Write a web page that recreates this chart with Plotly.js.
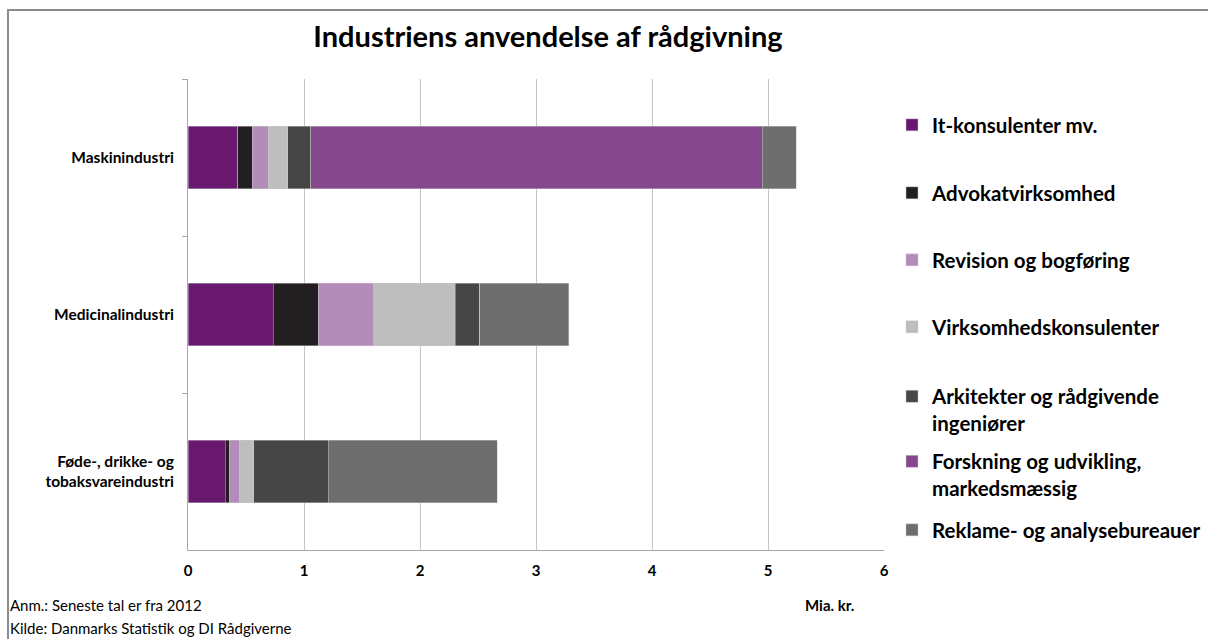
<!DOCTYPE html>
<html>
<head>
<meta charset="utf-8">
<script src="https://cdn.plot.ly/plotly-3.0.1.min.js"></script>
<style>
  html, body { margin: 0; padding: 0; background: #ffffff; }
  #chart { width: 1208px; height: 639px; }
</style>
</head>
<body>
<div id="chart"></div>
<script>
// Categories (top to bottom)
const categories = ["Maskinindustri", "Medicinalindustri", "Føde-, drikke- og<br>tobaksvareindustri"];

// Series values (Mia. kr.), same order as categories
const itKonsulenter   = [0.43, 0.733, 0.32];
const advokat         = [0.125, 0.39, 0.035];
const revision        = [0.135, 0.48, 0.085];
const virksomhed      = [0.17, 0.70, 0.125];
const arkitekter      = [0.20, 0.21, 0.645];
const forskning       = [3.89, 0, 0];
const reklame         = [0.295, 0.77, 1.455];

const seriesNames = [
  "It-konsulenter mv.",
  "Advokatvirksomhed",
  "Revision og bogføring",
  "Virksomhedskonsulenter",
  "Arkitekter og rådgivende<br>ingeniører",
  "Forskning og udvikling,<br>markedsmæssig",
  "Reklame- og analysebureauer"
];
const seriesValues = [itKonsulenter, advokat, revision, virksomhed, arkitekter, forskning, reklame];
const seriesColors = ["#68186f", "#231f20", "#b48cb9", "#bebebe", "#464646", "#85488c", "#6e6e6e"];

const xTicks = [0, 1, 2, 3, 4, 5, 6];

const FONT = "Lato, 'Open Sans', sans-serif";

// plot area geometry (pixels)
const L = 188, R = 884, T = 79, B = 550, W = 1208, H = 639;
const pw = R - L, ph = B - T;
const px2x = p => (p - L) / pw;
const py2y = p => (B - p) / ph;

const legendCenters = [125, 193, 260, 327, 410, 475, 530];
const legendX = 892;

const traces = seriesNames.map((name, i) => ({
  type: "bar",
  orientation: "h",
  name: name,
  y: categories,
  x: seriesValues[i],
  marker: { color: seriesColors[i], line: { color: "rgba(200,200,200,0.6)", width: 0.8 } },
  legend: "legend" + (i + 2),
  showlegend: true,
  hoverinfo: "x+name"
}));

const layout = {
  width: W, height: H,
  paper_bgcolor: "#ffffff",
  plot_bgcolor: "#ffffff",
  margin: { l: L, r: W - R, t: T, b: H - B, pad: 0, autoexpand: false },
  barmode: "stack",
  bargap: 0.6,
  showlegend: true,
  font: { family: FONT, color: "#000000" },
  title: {
    text: "Industriens anvendelse af rådgivning",
    font: { family: FONT, size: 29, weight: "bold", color: "#000000" },
    x: (548) / W, xanchor: "center",
    y: 1 - 37 / H, yanchor: "middle"
  },
  xaxis: {
    range: [0, 6],
    tickvals: xTicks,
    ticktext: xTicks.map(String),
    showgrid: true,
    gridcolor: "#c4c4c4",
    gridwidth: 1,
    zeroline: false,
    showline: true,
    linecolor: "#a6a6a6",
    linewidth: 1,
    ticks: "",
    ticklabelstandoff: 7,
    tickfont: { family: FONT, size: 15, weight: "bold", color: "#000000" },
    fixedrange: true
  },
  yaxis: {
    autorange: "reversed",
    type: "category",
    showline: true,
    linecolor: "#a6a6a6",
    linewidth: 1,
    ticks: "outside",
    tickson: "boundaries",
    ticklen: 5,
    tickcolor: "#a6a6a6",
    showgrid: false,
    ticklabelstandoff: 10,
    tickfont: { family: FONT, size: 15.5, weight: "bold", color: "#000000" },
    fixedrange: true
  },
  annotations: [
    { text: "Mia. kr.", xref: "paper", yref: "paper", x: px2x(829), y: py2y(605),
      xanchor: "center", yanchor: "middle", showarrow: false,
      font: { family: FONT, size: 15, weight: "bold", color: "#000000" } },
    { text: "Anm.: Seneste tal er fra 2012", xref: "paper", yref: "paper", x: px2x(8), y: py2y(605),
      xanchor: "left", yanchor: "middle", showarrow: false,
      font: { family: FONT, size: 15, color: "#000000" } },
    { text: "Kilde: Danmarks Statistik og DI Rådgiverne", xref: "paper", yref: "paper", x: px2x(8), y: py2y(628),
      xanchor: "left", yanchor: "middle", showarrow: false,
      font: { family: FONT, size: 15, color: "#000000" } }
  ],
  shapes: [
    { type: "rect", xref: "paper", yref: "paper", layer: "below",
      x0: px2x(8), x1: px2x(1400), y0: py2y(800), y1: py2y(10),
      line: { color: "#8c8c8c", width: 2 }, fillcolor: "rgba(0,0,0,0)" }
  ],
  hovermode: "closest"
};

seriesNames.forEach((n, i) => {
  layout["legend" + (i + 2)] = {
    x: px2x(legendX), xanchor: "left",
    y: py2y(legendCenters[i]), yanchor: "middle",
    bgcolor: "rgba(0,0,0,0)",
    borderwidth: 0,
    valign: "top",
    font: { family: FONT, size: 20.5, weight: "bold", color: "#000000" }
  };
});

Plotly.newPlot("chart", traces, layout, { displayModeBar: false, responsive: false });
</script>
</body>
</html>
